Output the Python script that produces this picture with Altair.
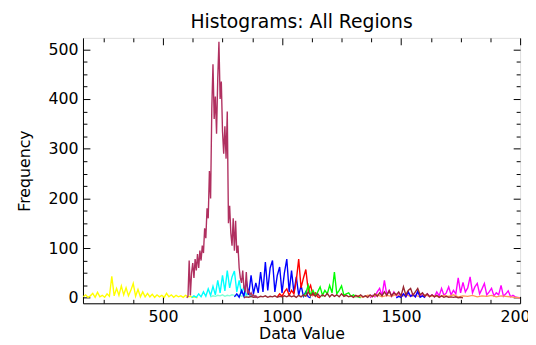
import altair as alt
import pandas as pd

# ---------------- data ----------------
# each series: start data value, bin step, counts
yellow_start, yellow_step = 165, 10
yellow = [2, 6, 1, 4, 9, 1, 11, 2, 5, 1,
          8, 3, 43, 4, 19, 5, 24, 6, 20, 4,
          15, 29, 3, 17, 2, 12, 2, 9, 2, 7,
          1, 6, 2, 5, 1, 9, 2, 6, 1, 5,
          2, 4, 1, 5, 2, 3, 1, 2, 0]

cyan_start, cyan_step = 620, 10
cyan = [0, 4, 1, 8, 2, 12, 3, 18, 5, 23,
        6, 35, 10, 45, 14, 55, 20, 42, 54, 12,
        35, 8, 22, 5, 12, 3, 6, 0]

aqua_start, aqua_step = 700, 10
aqua = [2, 4, 3, 5, 4, 6, 3, 5, 4, 6, 5, 4, 6, 3, 5, 4, 3, 2, 2, 1, 0]

blue_start, blue_step = 800, 10
blue = [2, 8, 1, 15, 3, 35, 6, 45, 8, 30,
        10, 52, 12, 72, 15, 60, 75, 12, 45, 62,
        10, 50, 78, 12, 55, 10, 42, 5, 25, 3,
        12, 2, 0]

red_start, red_step = 980, 10
red = [2, 8, 3, 12, 18, 5, 15, 8, 35, 78, 20, 40, 57, 15, 25, 5, 10, 2, 0]

green_start, green_step = 1090, 10
green = [3, 10, 25, 5, 15, 4, 12, 22, 5, 15,
         8, 25, 10, 52, 8, 15, 24, 5, 8, 10,
         3, 6, 2, 3, 0]

magenta_start, magenta_step = 1370, 10
magenta = [0, 5, 2, 12, 19, 4, 35, 6, 15, 3,
           12, 4, 10, 3, 8, 2, 10, 3, 8, 2,
           12, 3, 6, 2, 8, 3, 6, 2, 12, 4,
           19, 5, 10, 22, 6, 15, 8, 40, 10, 31,
           12, 20, 42, 10, 22, 29, 8, 18, 29, 6,
           12, 19, 4, 10, 6, 25, 3, 8, 14, 2,
           5, 2, 1, 0]

orange_start, orange_step = 1300, 20
orange = [2, 4, 1, 5, 3, 6, 2, 5, 3, 7,
          2, 6, 3, 5, 2, 6, 3, 4, 2, 5,
          3, 6, 2, 4, 3, 5, 2, 4, 3, 5,
          2, 4, 3, 2, 1, 0]

blue2_start, blue2_step = 1480, 10
blue2 = [0, 3, 1, 8, 2, 12, 3, 6, 2, 13, 1, 4, 0]

brown_start, brown_step = 840, 10
brown = [1, 2, 1, 3, 1, 2, 1, 3, 2, 4,
         1, 3, 2, 4, 1, 3, 2, 4, 2, 5,
         2, 4, 1, 5, 2, 6, 3, 12, 4, 10,
         3, 8, 2, 6, 3, 9, 2, 7, 3, 6,
         2, 8, 3, 5, 2, 4, 1, 5, 2, 6,
         2, 4, 1, 6, 2, 8, 3, 10, 4, 12,
         5, 14, 4, 10, 6, 12, 4, 22, 6, 15,
         19, 5, 12, 19, 6, 10, 3, 8, 2, 6,
         2, 5, 1, 4, 1, 3, 1, 2, 1, 2,
         0, 1, 0]

maroon_start, maroon_step = 600, 5
maroon = [0, 3, 75, 5, 50, 70, 40, 78, 55, 88,
          60, 95, 75, 105, 90, 140, 120, 180, 160, 255,
          200, 380, 470, 360, 405, 330, 440, 515, 400, 435,
          335, 290, 345, 280, 375, 150, 185, 130, 105, 160,
          95, 155, 90, 105, 60, 40, 30, 55, 20, 15,
          52, 10, 14, 6, 10, 4, 6, 2, 4, 1,
          0]

# draw order = list order
series = [
    ("s01", yellow_start, yellow_step, yellow, "#FFFF00"),
    ("s02", cyan_start, cyan_step, cyan, "#00FFFF"),
    ("s03", aqua_start, aqua_step, aqua, "#7FFFD4"),
    ("s04", blue_start, blue_step, blue, "#0000FF"),
    ("s05", red_start, red_step, red, "#FF0000"),
    ("s06", green_start, green_step, green, "#00FF00"),
    ("s07", magenta_start, magenta_step, magenta, "#FF00FF"),
    ("s08", orange_start, orange_step, orange, "#FF9955"),
    ("s09", blue2_start, blue2_step, blue2, "#0000FF"),
    ("s10", brown_start, brown_step, brown, "#982832"),
    ("s11", maroon_start, maroon_step, maroon, "#B03060"),
]

x_major = [500, 1000, 1500, 2000]
x_minor = [250, 375, 625, 750, 875, 1125, 1250, 1375, 1625, 1750, 1875]
y_major = [0, 100, 200, 300, 400, 500]
y_minor = [25, 50, 75, 125, 150, 175, 225, 250, 275, 325, 350, 375, 425, 450, 475]
x_domain = [164, 2000]
y_domain = [-11, 523]

rows = []
for name, start, step, vals, _c in series:
    for i, v in enumerate(vals):
        rows.append({"series": name, "x": start + step * i, "y": v, "idx": i})
df = pd.DataFrame(rows)
dummy = pd.DataFrame({"x": [1000], "y": [0]})

FONT = "DejaVu Sans"
xscale = alt.Scale(domain=x_domain, nice=False, zero=False)
yscale = alt.Scale(domain=y_domain, nice=False, zero=False)

lines = alt.Chart(df).mark_line(strokeWidth=1.4, clip=True).encode(
    x=alt.X("x:Q", scale=xscale, axis=alt.Axis(
        orient="bottom", values=x_major, title="Data Value", ticks=False, grid=False,
        labelFont=FONT, labelFontSize=16, labelColor="black", labelPadding=5,
        labelFlush=False, labelOverlap=False, labelBound=False, format="d",
        titleFont=FONT, titleFontSize=16, titleFontWeight="normal", titleColor="black",
        titlePadding=2, domainColor="black")),
    y=alt.Y("y:Q", scale=yscale, axis=alt.Axis(
        orient="left", values=y_major, title="Frequency", ticks=False, grid=False,
        labelFont=FONT, labelFontSize=16, labelColor="black", labelPadding=5,
        labelFlush=False, labelOverlap=False, format="d",
        titleFont=FONT, titleFontSize=16, titleFontWeight="normal", titleColor="black",
        titlePadding=16, domainColor="black")),
    color=alt.Color("series:N", scale=alt.Scale(domain=[s[0] for s in series],
                                                 range=[s[4] for s in series]), legend=None),
    order="idx:Q",
)


def tick_layer(xvals, yvals, length, xorient, yorient):
    return alt.Chart(dummy).mark_point(opacity=0).encode(
        x=alt.X("x:Q", scale=xscale, axis=alt.Axis(
            orient=xorient, values=xvals, tickSize=length, offset=-length, labels=False,
            domain=False, grid=False, title=None, tickColor="black", tickWidth=1)),
        y=alt.Y("y:Q", scale=yscale, axis=alt.Axis(
            orient=yorient, values=yvals, tickSize=length, offset=-length, labels=False,
            domain=False, grid=False, title=None, tickColor="black", tickWidth=1)),
    )


chart = alt.layer(
    lines,
    tick_layer(x_major, y_major, 7, "bottom", "left"),
    tick_layer(x_minor, y_minor, 4, "bottom", "left"),
    tick_layer(x_major, y_major, 7, "top", "right"),
    tick_layer(x_minor, y_minor, 4, "top", "right"),
).resolve_axis(x="independent", y="independent").properties(
    width=443, height=269,
    title=alt.TitleParams("Histograms: All Regions", font=FONT, fontSize=19,
                          fontWeight="normal", color="black", anchor="middle", offset=6),
    autosize=alt.AutoSizeParams(type="none"),
    padding={"left": 76, "top": 28, "right": 8, "bottom": 40},
).configure_view(stroke="black", strokeWidth=1).configure(background="white")

chart.save("out.html", embed_options={"renderer": "svg", "actions": False})
